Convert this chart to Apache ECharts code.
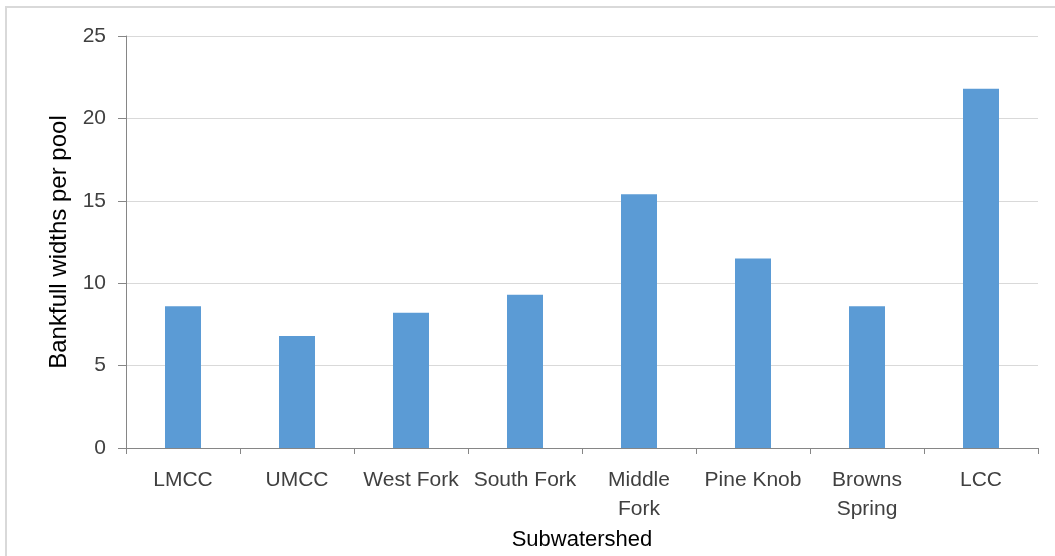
<!DOCTYPE html>
<html>
<head>
<meta charset="utf-8">
<script src="https://cdn.jsdelivr.net/npm/echarts@6/dist/echarts.min.js"></script>
<style>
  html, body { margin: 0; padding: 0; background: #fff; }
  #main { width: 1055px; height: 556px; }
</style>
</head>
<body>
<div id="main"></div>
<script>
// 数据
var categories = ['LMCC', 'UMCC', 'West Fork', 'South Fork', 'Middle Fork', 'Pine Knob', 'Browns Spring', 'LCC'];
var widthsPerPool = [8.6, 6.8, 8.2, 9.3, 15.4, 11.5, 8.6, 21.8];
var yTicks = [0, 5, 10, 15, 20, 25];
// 换行显示的标签
var wrapped = { 'Middle Fork': 'Middle\nFork', 'Browns Spring': 'Browns\nSpring' };

var font = '"Liberation Sans", Arial, sans-serif';
var chart = echarts.init(document.getElementById('main'));

var option = {
    animation: false,
    graphic: [{
        type: 'rect',
        shape: { x: 6, y: 7, width: 1100, height: 600 },
        style: { fill: 'none', stroke: '#d9d9d9', lineWidth: 2 },
        silent: true
    }],
    grid: { left: 126, right: 17, top: 36, bottom: 108 },
    xAxis: {
        type: 'category',
        data: categories,
        name: 'Subwatershed',
        nameLocation: 'middle',
        nameGap: 79,
        nameTextStyle: { fontFamily: font, fontSize: 22, color: '#000' },
        axisLine: { lineStyle: { color: '#868686', width: 1 } },
        axisTick: { show: true, length: 6, alignWithLabel: false, lineStyle: { color: '#868686' } },
        axisLabel: {
            interval: 0,
            margin: 18,
            fontFamily: font,
            fontSize: 21,
            lineHeight: 29,
            color: '#404040',
            formatter: function (v) { return wrapped[v] || v; }
        }
    },
    yAxis: {
        type: 'value',
        min: 0,
        max: 25,
        interval: 5,
        name: 'Bankfull widths per pool',
        nameLocation: 'middle',
        nameGap: 54,
        nameTextStyle: { fontFamily: font, fontSize: 24, color: '#000' },
        axisLine: { show: true, lineStyle: { color: '#868686', width: 1 } },
        axisTick: { show: true, length: 8, lineStyle: { color: '#868686' } },
        splitLine: { lineStyle: { color: '#d9d9d9', width: 1 } },
        axisLabel: {
            margin: 20,
            fontFamily: font,
            fontSize: 21,
            color: '#404040',
            formatter: function (v) { return yTicks.indexOf(v) >= 0 ? String(v) : ''; }
        }
    },
    series: [{
        type: 'bar',
        data: widthsPerPool,
        barWidth: 36,
        itemStyle: { color: '#5b9bd5' }
    }]
};

chart.setOption(option);
</script>
</body>
</html>
